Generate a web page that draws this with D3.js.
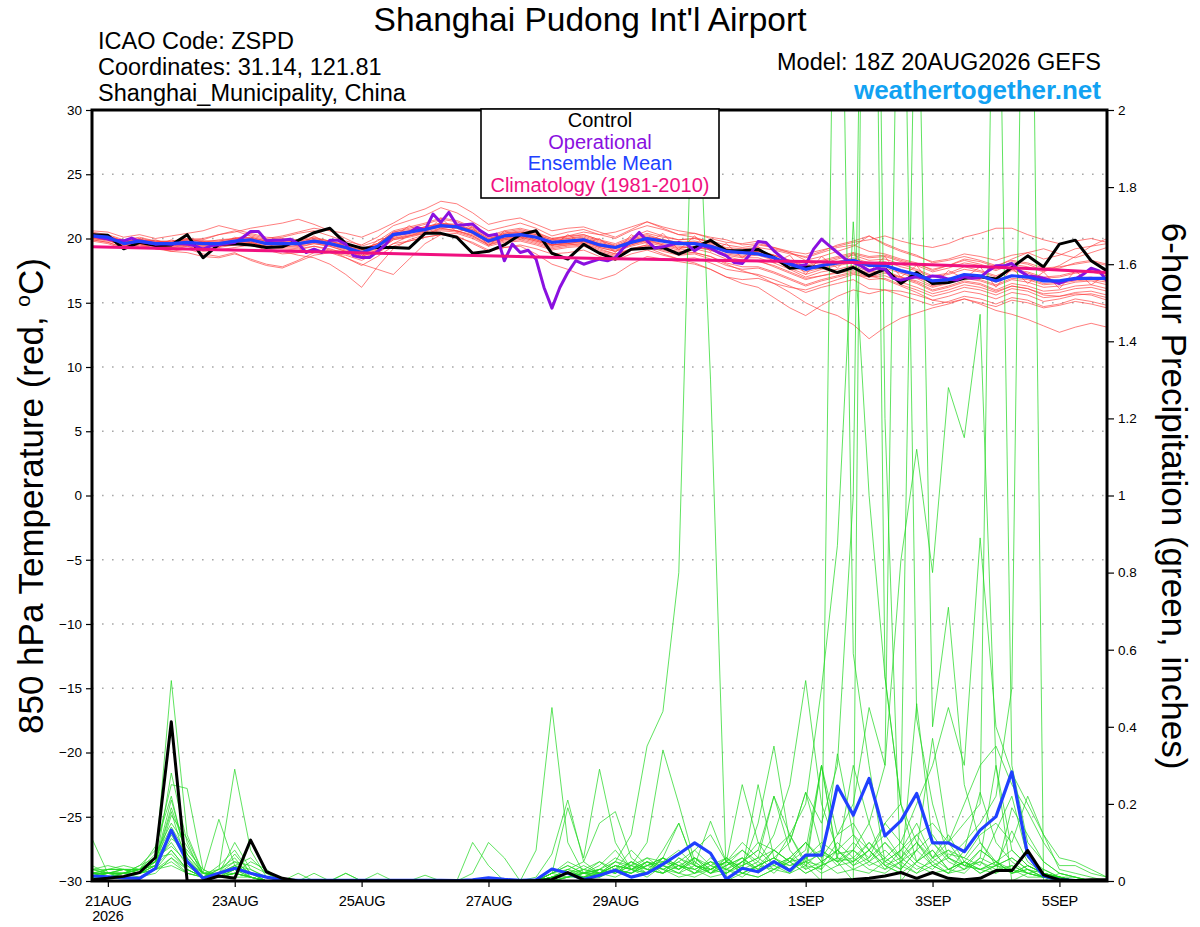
<!DOCTYPE html>
<html>
<head>
<meta charset="utf-8">
<script src="https://cdn.jsdelivr.net/npm/d3@7"></script>
<style>
body { margin: 0; background: #fff; }
svg { display: block; }
text { font-family: "Liberation Sans", Arial, Helvetica, sans-serif; }
</style>
</head>
<body>
<svg id="chart" width="1200" height="927"></svg>
<script>
// ---------------- DATA ----------------
const runStart = Date.UTC(2026, 7, 20, 18); // 18Z 20AUG2026, 6-hourly steps
const stepHours = 6;
const opStepHours = 3;

const xTickDates = [Date.UTC(2026,7,21), Date.UTC(2026,7,23), Date.UTC(2026,7,25), Date.UTC(2026,7,27),
                    Date.UTC(2026,7,29), Date.UTC(2026,8,1), Date.UTC(2026,8,3), Date.UTC(2026,8,5)];
const xTickLabels = ["21AUG", "23AUG", "25AUG", "27AUG", "29AUG", "1SEP", "3SEP", "5SEP"];
const yearLabel = "2026";
const tempTicks = [-30, -25, -20, -15, -10, -5, 0, 5, 10, 15, 20, 25, 30];
const precipTicks = [0, 0.2, 0.4, 0.6, 0.8, 1, 1.2, 1.4, 1.6, 1.8, 2];

// Control 850 hPa temperature (6-hourly)
const controlTemp = [20.3,20.25,19.2,19.7,19.45,19.5,20.3,18.5,19.55,19.6,19.5,19.3,19.35,19.85,20.45,20.8,
  19.6,19.25,19.3,19.3,19.25,20.4,20.4,20.1,18.85,19.0,19.5,20.3,20.6,18.85,18.4,19.55,
  18.85,18.4,19.17,19.25,19.3,18.78,19.3,19.86,19.04,19.04,19.15,18.52,17.69,17.79,17.79,17.35,
  17.74,17.09,17.61,16.5,17.35,16.5,16.58,16.91,17.02,16.84,17.74,18.65,17.79,19.56,19.87,18.27,17.48];

// Operational 850 hPa temperature (3-hourly)
const operationalTemp = [20.21,20.08,19.95,19.87,19.82,20.03,19.77,19.69,19.56,19.61,19.56,19.61,19.56,19.43,19.17,19.43,
  19.51,19.61,19.69,20.08,20.54,20.54,19.82,19.87,19.87,19.95,19.61,18.91,19.17,18.91,19.87,19.87,
  19.56,18.65,18.52,18.52,18.99,19.51,20.34,20.39,20.47,20.86,20.65,21.9,21.25,22.03,21.04,21.07,
  21.12,20.6,20.21,20.34,18.27,19.56,18.91,19.09,18.39,16.19,14.58,16.19,17.35,18.27,18.0,18.2,
  18.39,18.26,18.52,19.25,19.82,20.47,19.82,19.25,19.35,19.51,19.69,19.56,19.04,19.43,19.25,18.91,
  18.65,18.13,18.05,18.78,19.77,19.69,19.04,18.52,18.05,17.87,17.95,19.17,19.95,19.43,18.91,18.39,
  18.13,17.87,17.48,17.69,17.61,16.91,16.76,16.91,17.02,16.91,17.09,17.02,16.84,16.76,17.02,16.91,
  16.97,17.48,17.87,17.87,18.05,17.48,17.09,17.02,16.91,16.71,16.5,16.76,16.84,17.22,17.69,17.48,16.71];

// Ensemble mean 850 hPa temperature (6-hourly)
const meanTemp = [20.2,20.1,19.6,19.8,19.6,19.6,19.7,19.6,19.6,19.8,19.9,19.6,19.6,19.6,19.8,19.6,
  19.3,18.9,19.4,20.3,20.5,20.7,21.0,20.9,20.5,19.8,20.2,20.3,20.1,19.7,19.8,19.9,
  19.5,19.3,19.7,20.0,19.8,19.6,19.6,19.4,19.0,18.9,18.8,18.5,18.0,17.6,17.9,18.1,
  18.3,17.9,17.9,17.5,17.2,16.7,16.8,17.2,17.1,16.7,17.1,17.0,16.7,16.7,16.9,16.9,16.9];

// Climatology (1981-2010), daily from 18Z 20AUG
const climoTemp = [19.35,19.24,19.13,19.02,18.91,18.8,18.68,18.56,18.44,18.36,18.29,18.22,18.13,18.0,17.82,17.6,17.36];

// Ensemble member temperatures (6-hourly)
const memberTemp = [
 [20.5,20.3,19.9,20.1,19.8,19.7,20.0,19.9,20.3,20.6,20.2,19.9,20.1,20.4,20.6,20.2, 19.8,19.5,20.1,21.0,21.4,21.8,22.4,22.0,21.3,20.6,20.9,21.2,20.8,20.2,20.5,20.7, 20.3,20.0,20.6,21.0,20.7,20.3,20.4,20.0,19.7,19.6,19.8,19.2,18.9,18.5,18.9,19.3, 19.5,19.0,18.8,18.4,18.1,17.5,17.9,18.3,18.0,17.6,18.2,18.0,17.5,17.7,18.1,18.3,18.0],
 [19.9,19.7,19.3,19.5,19.2,19.1,19.4,19.0,19.1,19.3,19.5,19.1,18.8,18.9,19.2,18.9, 18.5,17.9,18.6,19.4,19.8,20.1,20.3,20.2,19.6,19.0,19.3,19.5,19.2,18.8,18.9,19.1, 18.6,18.3,18.8,19.1,18.7,18.4,18.5,18.1,17.6,17.4,17.2,16.8,16.3,15.8,16.2,16.5, 16.8,16.1,16.0,15.6,15.2,14.8,15.1,15.5,15.3,14.9,15.4,15.2,14.7,14.9,15.3,15.1,14.8],
 [20.3,20.0,19.5,20.0,19.4,19.9,19.5,19.8,19.3,20.1,19.7,19.3,19.8,19.4,20.2,19.5, 19.6,18.6,19.9,20.1,21.0,20.4,21.6,20.5,20.9,19.4,20.6,19.9,20.7,19.4,20.3,19.6, 20.0,18.9,20.3,19.6,20.4,19.1,20.2,19.0,19.6,18.5,19.4,18.1,18.7,17.2,18.6,17.7, 18.9,17.4,18.6,17.0,17.9,16.3,17.5,16.9,17.8,16.2,17.7,16.5,17.4,16.1,17.5,16.4,17.2],
 [20.1,20.2,19.8,19.7,19.9,19.5,19.6,19.7,19.4,19.6,19.8,19.2,19.0,18.7,18.5,18.0, 17.2,16.2,17.8,19.2,19.9,20.3,20.8,20.6,20.2,19.5,19.9,20.1,19.8,19.5,19.6,19.8, 19.3,19.0,19.5,19.9,19.6,19.4,19.3,19.2,18.8,18.6,18.7,18.3,17.7,17.2,17.6,17.9, 18.1,17.6,17.7,17.3,16.9,16.3,16.6,17.0,16.8,16.4,16.9,16.8,16.4,16.5,16.7,16.8,16.6],
 [20.4,20.1,19.7,19.9,19.8,19.8,20.0,19.7,19.9,20.0,20.3,20.0,20.2,20.5,20.8,20.6, 20.4,20.1,20.6,21.2,21.9,22.3,22.9,22.7,22.0,21.1,21.4,21.6,21.1,20.6,20.8,20.9, 20.5,20.1,20.7,21.3,20.9,20.6,20.4,20.1,19.9,19.5,19.6,19.3,18.9,18.3,18.6,19.0, 19.4,20.2,19.5,19.0,18.6,18.2,18.4,18.8,18.6,18.3,18.7,18.9,18.4,18.7,19.2,19.4,19.6],
 [20.0,19.9,19.4,19.6,19.5,19.3,19.5,19.4,19.5,19.7,19.6,19.3,19.4,19.3,19.6,19.4, 19.0,18.6,19.0,19.9,20.1,20.4,20.6,20.5,20.1,19.5,19.8,19.9,19.6,19.2,19.4,19.5, 19.0,18.7,19.2,19.5,19.1,18.8,18.9,18.6,18.0,17.5,17.1,16.5,15.8,15.0,14.4,14.0, 13.3,12.2,13.1,13.8,14.2,14.6,14.9,15.3,15.0,14.7,15.2,15.0,14.6,14.8,15.1,14.9,14.6],
 [20.2,20.0,19.6,19.9,19.7,19.6,19.8,19.6,19.7,19.9,20.0,19.8,19.7,19.6,19.9,19.7, 19.4,19.1,19.6,20.4,20.6,20.9,21.2,21.0,20.7,20.0,20.4,20.5,20.3,19.9,20.0,20.2, 19.8,19.5,20.0,20.4,20.1,19.9,20.0,19.8,19.5,19.3,19.5,19.3,19.0,18.8,19.1,19.4, 19.7,19.9,20.2,19.8,19.5,19.3,19.6,20.1,20.4,20.8,20.8,20.3,19.9,19.6,19.8,20.0,19.7],
 [19.8,19.6,19.2,19.4,19.3,19.0,19.2,18.8,18.6,18.9,18.3,17.9,17.7,18.2,18.7,18.9, 18.7,18.3,18.9,19.6,20.2,20.6,21.1,21.0,20.4,19.8,20.0,20.4,20.0,19.5,19.6,19.8, 19.4,19.2,19.6,19.9,19.5,19.2,19.4,19.1,18.7,18.5,18.5,18.1,17.6,17.0,17.4,17.6, 17.9,17.4,17.5,17.0,16.6,16.0,16.3,16.7,16.5,16.0,16.5,16.3,15.9,16.0,16.3,16.4,16.1],
 [20.6,20.5,20.1,20.3,20.0,20.2,20.4,20.6,21.0,20.7,20.4,20.1,20.0,19.9,20.1,19.8, 19.5,19.2,19.6,20.5,20.8,21.1,21.5,21.3,20.8,20.1,20.5,20.7,20.4,20.0,20.2,20.3, 19.9,19.6,20.1,20.6,20.2,19.9,20.0,19.7,19.2,19.0,19.1,18.7,18.2,17.7,18.0,18.4, 18.7,18.3,18.4,18.0,17.6,17.1,17.3,17.8,17.5,17.1,17.6,17.4,17.0,17.1,17.4,17.5,17.2],
 [20.3,20.1,19.7,19.8,19.6,19.7,19.9,20.0,20.3,20.5,20.8,21.0,21.2,21.5,21.1,20.6, 20.0,19.4,19.8,20.6,20.9,21.2,21.6,21.4,20.9,20.2,20.6,20.8,20.5,20.0,20.1,20.3, 19.9,19.4,19.9,20.3,19.9,19.6,19.7,19.4,18.9,18.7,18.8,18.4,17.9,17.4,17.7,18.0, 18.2,17.8,17.9,17.4,17.0,16.5,16.8,17.2,17.0,16.6,17.1,16.9,16.5,16.6,16.9,17.0,16.7],
 [20.0,19.8,19.5,19.6,19.4,19.4,19.5,19.3,19.4,19.5,19.7,19.4,19.3,19.2,19.4,19.1, 18.5,18.0,17.6,17.2,18.4,19.6,20.3,20.4,20.0,19.4,19.7,19.8,19.5,19.1,19.3,19.4, 18.9,18.6,19.1,19.4,19.0,18.7,18.8,18.4,17.9,17.6,17.7,17.3,16.8,16.3,16.7,17.0, 17.3,16.8,16.9,16.4,16.0,15.5,15.8,16.2,16.0,15.6,16.1,15.9,15.4,15.5,15.8,15.9,15.6],
 [20.2,20.0,19.6,19.8,19.6,19.5,19.7,19.6,19.6,19.8,19.9,19.6,19.5,19.6,19.8,19.6, 19.2,18.9,19.3,20.2,20.5,20.8,21.1,21.0,20.6,19.9,20.4,20.6,20.3,19.9,20.2,20.5, 20.3,20.5,20.9,21.3,20.8,20.3,20.1,19.7,19.2,18.9,18.9,18.5,18.0,17.6,17.9,18.2, 18.5,18.1,18.2,17.8,17.5,17.0,17.2,17.6,17.4,17.0,17.5,17.3,16.9,17.0,17.3,17.4,17.1],
 [19.9,19.7,19.3,19.5,19.4,19.3,19.4,19.2,19.3,19.5,19.6,19.3,19.2,19.1,19.4,19.2, 18.8,18.5,18.9,19.6,19.8,20.1,20.3,20.1,19.7,19.1,19.3,19.4,18.8,18.0,17.6,17.1, 16.8,17.2,18.0,18.6,18.4,18.2,18.0,17.6,17.0,16.5,16.2,15.4,14.6,14.0,14.8,15.5, 16.0,15.7,16.0,15.9,15.6,15.2,15.5,15.9,15.7,15.3,15.8,15.6,15.1,15.3,15.6,15.7,15.4],
 [20.1,19.9,19.5,19.7,19.5,19.5,19.6,19.5,19.5,19.7,19.8,19.5,19.5,19.5,19.7,19.5, 19.1,18.8,19.2,20.0,20.3,20.6,20.9,20.8,20.4,19.7,20.0,20.2,19.9,19.5,19.7,19.8, 19.4,19.1,19.5,19.8,19.5,19.3,19.3,19.1,18.6,18.3,18.2,17.9,17.4,16.9,17.1,17.3, 17.5,17.1,16.8,16.3,15.8,15.2,15.0,15.3,14.9,14.4,14.1,13.7,13.2,12.7,13.1,13.4,13.1],
 [20.4,20.2,19.8,19.9,19.7,19.8,19.9,19.8,19.8,20.0,20.1,19.8,19.8,19.8,20.0,19.8, 19.5,19.2,19.6,20.5,20.7,20.9,21.2,21.1,20.7,20.0,20.3,20.5,20.2,19.8,20.0,20.1, 19.7,19.4,19.8,20.2,19.9,19.7,19.7,19.5,19.1,18.9,19.0,18.7,18.3,17.9,18.3,18.6, 18.9,18.6,18.7,18.3,18.0,17.6,17.9,18.4,18.2,17.8,18.4,18.9,19.2,18.8,18.5,18.9,19.3],
 [20.0,19.9,19.4,19.6,19.5,19.4,19.6,19.4,19.5,19.6,19.7,19.4,19.4,19.4,19.6,19.4, 19.0,18.7,19.1,20.0,20.2,20.4,20.7,20.6,20.2,19.6,19.9,20.0,19.7,19.3,19.5,19.6, 19.2,18.8,19.1,19.3,18.8,18.4,18.1,17.6,17.0,16.8,16.9,16.5,16.2,16.0,16.4,16.8, 17.2,17.0,17.3,17.0,16.7,16.2,16.5,16.9,16.7,16.3,16.8,16.6,16.2,16.3,16.6,16.7,16.4],
 [20.3,20.1,19.7,19.9,19.7,19.7,19.8,19.7,19.7,19.9,20.0,19.7,19.7,19.7,19.9,19.7, 19.3,19.0,19.4,20.3,20.5,20.8,21.0,20.9,20.5,19.8,20.2,20.3,20.1,19.7,19.8,20.0, 19.6,19.3,19.8,20.1,19.9,19.7,19.8,19.6,19.3,19.2,19.3,19.1,18.8,18.6,19.0,19.5, 19.8,20.2,19.6,19.1,18.7,18.1,18.3,18.6,18.3,17.9,18.3,18.1,17.7,17.8,18.0,18.2,17.9],
 [20.1,20.0,19.6,19.8,19.6,19.6,19.7,19.5,19.6,19.8,19.9,19.6,19.6,19.5,19.7,19.5, 19.2,18.8,19.3,20.1,20.4,20.7,20.9,20.8,20.4,19.8,20.1,20.2,19.9,19.5,19.6,19.7, 19.3,19.0,19.4,19.7,19.4,19.1,19.2,18.9,18.4,18.2,18.3,17.8,17.3,16.8,17.1,17.4, 17.7,17.3,17.4,16.9,16.5,15.9,16.2,16.6,16.4,15.9,16.3,16.1,15.6,15.5,15.7,15.6,15.2],
 [20.2,19.9,19.5,19.6,19.2,19.0,18.9,18.6,18.5,18.8,18.4,18.0,17.8,18.3,18.9,19.1, 19.0,18.6,19.1,19.9,20.2,20.5,20.8,20.6,20.3,19.7,20.0,20.1,19.8,19.4,19.5,19.6, 19.1,18.8,19.2,19.5,19.2,19.0,18.9,18.6,18.1,17.8,17.8,17.4,16.9,16.4,16.8,17.1, 17.4,17.0,17.1,16.6,16.2,15.7,16.0,16.4,16.2,15.8,16.3,16.1,15.7,15.8,16.1,16.2,15.9],
 [20.3,20.2,19.8,20.0,19.8,19.7,19.9,19.8,19.8,20.0,20.1,19.8,19.7,19.8,20.0,19.8, 19.4,19.1,19.5,20.3,20.6,20.9,21.1,21.0,20.6,19.9,20.3,20.4,20.1,19.7,19.9,20.0, 19.6,19.3,19.7,20.1,19.8,19.6,19.7,19.5,19.1,18.9,19.0,18.7,18.3,17.8,18.2,18.5, 18.8,18.5,18.6,18.2,17.9,17.4,17.7,18.1,17.9,17.5,18.0,17.8,17.4,17.9,18.6,19.4,20.0]
];

// Control 6-hour precipitation (inches)
const controlPrecip = [0.003,0.007,0.012,0.022,0.061,0.413,0,0,0.013,0.007,0.106,0.024,0.007,0,0,0,
  0,0,0,0,0,0,0,0,0,0,0,0,0.001,0.004,0.022,0.003,
  0.002,0.001,0.001,0.001,0.001,0.001,0.001,0.001,0.001,0.001,0.001,0.001,0.001,0.002,0.002,0.002,
  0.004,0.007,0.013,0.022,0.007,0.022,0.007,0.003,0.007,0.027,0.027,0.079,0.016,0.003,0.001,0.003,0.003];

// Ensemble mean 6-hour precipitation (inches)
const meanPrecip = [0.013,0.011,0.008,0.007,0.033,0.132,0.05,0.007,0.02,0.033,0.02,0.01,0.003,0.002,0.002,0.002,
  0.002,0.002,0.002,0.002,0.002,0.002,0.002,0.001,0.003,0.008,0.004,0.002,0.003,0.031,0.02,0.004,
  0.015,0.028,0.01,0.02,0.044,0.07,0.099,0.072,0.005,0.033,0.024,0.05,0.027,0.067,0.067,0.246,
  0.171,0.266,0.117,0.156,0.227,0.099,0.099,0.076,0.132,0.167,0.283,0.067,0.013,0.003,0.001,0.001,0.001];

// Ensemble member 6-hour precipitation (inches)
const memberPrecip = [
 [.01,.02,.02,.03,.05,.52,.12,.02,.01,.03,.01,0,0,0,0,0, 0,0,0,0,0,0,0,0,0,0,0,0,.08,.45,.10,.02, .01,.03,.02,.05,.03,.01,.02,.06,.03,.01,.04,.08,.05,.02,.04,.10, .06,.03,.02,.05,.10,.04,.02,.03,.08,.05,.02,.03,.01,.01,0,0,0],
 [.03,.03,.03,.02,.04,.28,.10,.01,.02,.05,.02,0,0,0,.02,0, 0,0,0,0,0,0,0,0,0,0,0,0,.01,.07,.21,.05, .02,.04,.01,.02,.08,.15,.04,.02,.03,.06,.02,.05,.12,.04,.03,.33, .12,.05,.03,.08,.15,.06,.03,.05,.10,.04,.06,.03,.02,.01,.01,0,0],
 [.02,.01,.02,.04,.08,.25,.24,.03,.01,.02,.01,0,0,0,0,0, .02,0,0,0,0,0,0,0,0,0,0,0,0,.02,.19,.06, .29,.10,.03,.01,.04,.02,.01,.03,.05,.02,.01,.03,.06,.10,.05,.02, .03,.05,.08,.04,.02,.06,.12,.05,.03,.02,.04,.02,.01,0,0,0,0],
 [.11,.02,.03,.03,.05,.21,.06,.02,.16,.04,.01,0,0,0,0,0, 0,0,0,0,0,0,0,0,0,0,0,0,0,.01,.03,.05, .15,.18,.06,.03,.02,.04,.03,.01,.02,.05,.08,.22,.12,.05,.30,.06, .30,.15,.04,.02,.05,.08,.03,.02,.06,.04,.13,.05,.02,.01,0,0,0],
 [.02,.02,.03,.02,.05,.18,.04,.01,.03,.29,.08,.01,0,0,0,0, 0,0,0,0,0,0,0,0,.10,.04,0,0,0,.02,.05,.03, .02,.05,.04,.02,.06,.03,.08,.12,.05,.25,.10,.04,.02,.06,.03,.08, .05,.08,.12,.06,.03,.05,.02,.08,.23,.10,.05,.02,.03,.01,0,0,0],
 [.01,.03,.03,.03,.07,.15,.09,.02,.02,.10,.03,.01,0,0,0,0, 0,0,0,0,0,0,0,0,0,0,0,0,0,0,.01,.02, .03,.05,.12,.35,.44,.80,2.3,1.3,0,.02,.01,.03,.05,.02,.04,.06, .03,.02,.05,.08,.04,.02,.03,.05,.02,.04,.03,.01,.01,0,0,0,0],
 [.02,.02,.01,.02,.04,.12,.05,.01,.04,.08,.02,0,0,0,0,0, 0,0,.02,0,0,0,0,0,0,0,0,0,0,.01,.02,.01, .03,.06,.04,.10,.34,.20,.05,.02,.06,.03,.15,.35,.10,.23,.08,.04, .05,.10,.06,.03,.08,.37,.10,.04,.03,.05,.02,.04,.02,.01,0,0,0],
 [.03,.02,.02,.03,.09,.22,.05,.02,.01,.02,.05,.03,0,0,0,0, 0,0,0,0,0,.015,0,0,0,0,0,0,0,.02,.04,.02, .05,.03,.08,.04,.06,.15,.04,.02,.05,.10,.06,.22,.08,.03,.30,.12, .15,.08,.04,.02,.46,.10,.05,.03,.06,.30,.08,.04,.02,.01,0,0,0],
 [.01,.01,.02,.01,.03,.08,.03,.01,.02,.07,.02,0,0,0,0,0, 0,0,0,0,0,0,0,0,.02,.10,.06,0,0,.01,.02,.04, .02,.04,.03,.06,.05,.08,.04,.155,.05,.03,.25,.06,.04,.05,.07,.05, .08,.04,.06,.10,.05,.03,.07,.06,.04,.13,.22,.06,.03,.01,0,0,0],
 [.02,.03,.04,.03,.06,.14,.07,.02,.01,.04,.06,.02,0,.02,0,0, 0,0,0,0,0,0,0,0,0,0,0,0,0,.01,.03,.02, .01,.03,.05,.02,.04,.03,.06,.02,.04,.08,.05,.12,.25,.52,.20,.08, .04,.08,.03,.05,.02,.04,.06,.03,.05,.02,.19,.12,.05,.02,.01,0,0],
 [.04,.02,.02,.03,.05,.10,.04,.01,.03,.06,.01,0,0,0,0,0, .02,0,0,0,0,0,0,0,0,0,0,0,0,.01,.02,.01, .02,.01,.03,.02,.05,.04,.02,.03,.06,.02,.04,.03,.02,.04,0,3.2, .59,.30,.05,.03,.08,.04,.02,.05,.03,.04,.02,.03,.01,.01,0,0,0],
 [.01,.02,.01,.01,.02,.06,.02,.01,.01,.02,.01,0,0,0,0,0, 0,0,0,0,0,0,0,0,0,0,0,0,0,0,.01,.01, .02,.03,.02,.04,.03,.05,.08,.04,.03,.05,.10,.08,.12,.20,.50,.87, 1.71,1.0,.53,.20,.05,.10,.06,.04,.08,.05,.03,.02,.01,.01,0,0,0],
 [.02,.03,.03,.02,.04,.17,.11,.02,.02,.03,.02,.01,0,0,0,0, 0,0,0,0,0,0,0,0,0,0,0,0,0,.01,.02,.03, .05,.02,.04,.03,.02,.06,.03,.05,.02,.04,.06,.03,.05,.08,.30,.05, 0,4.5,1.2,0,.05,.08,.03,.05,.02,.04,.06,.03,.01,.01,0,0,0],
 [.03,.02,.02,.04,.06,.09,.05,.02,.03,.05,.04,.02,0,0,0,0, 0,0,0,0,0,0,0,0,0,0,0,0,0,.02,.04,.02, .04,.08,.03,.05,.04,.02,.06,.03,.05,.08,.04,.06,.10,.23,.15,.30, 1.0,4.0,.53,.20,.10,.06,.08,.04,.03,.05,.02,.04,.02,.01,0,0,0],
 [.01,.01,.01,.02,.03,.05,.02,.01,.01,.01,.01,0,0,0,0,0, 0,0,0,0,0,0,0,0,0,0,0,0,0,0,.01,.02, .03,.02,.05,.03,.06,.04,.02,.05,.03,.02,.04,.06,.03,.05,.02,.04, .08,.15,.30,3.0,.42,.20,.06,.04,.05,.03,.04,.02,.01,.01,0,0,0],
 [.02,.02,.03,.02,.05,.13,.06,.01,.02,.02,.01,0,0,0,0,0, 0,0,0,0,0,0,0,0,0,0,0,0,0,.01,.02,.01, .02,.04,.03,.05,.02,.06,.04,.03,.05,.04,.06,.08,.05,.10,.06,.12, .20,.45,.30,.83,1.12,.80,1.28,1.15,1.47,.30,0,.02,.01,.01,0,0,0],
 [.03,.04,.03,.03,.06,.07,.03,.01,.02,.04,.02,.01,0,0,0,0, 0,0,0,0,0,0,0,0,0,0,0,0,0,.02,.01,.03, .02,.05,.03,.04,.06,.03,.05,.02,.04,.06,.03,.05,.04,.06,.08,.05, .10,.06,.15,.20,2.6,.40,.71,.25,.10,.05,.08,.04,.02,.01,0,0,0],
 [.02,.01,.02,.03,.04,.11,.08,.03,.01,.03,.02,0,0,0,0,0, 0,0,0,0,0,0,0,0,0,0,0,0,0,.01,.02,.02, .03,.02,.04,.06,.03,.05,.02,.04,.06,.03,.05,.02,.06,.04,.08,.05, .06,.10,.05,.08,.12,.06,.10,.15,.20,3.0,.30,.10,.05,.02,.01,0,0],
 [.01,.02,.02,.02,.03,.04,.02,.01,.01,.02,.01,0,0,0,0,0, 0,0,0,0,0,0,0,0,0,0,0,0,0,0,.01,.02, .02,.03,.02,.05,.03,.02,.04,.03,.02,.05,.03,.04,.06,.03,.05,.08, .04,.06,.10,.05,.08,.12,.06,.10,.15,.22,.50,3.5,0,.02,.01,0,0],
 [.02,.02,.02,.03,.05,.19,.07,.02,.02,.04,.03,.01,0,0,0,0, 0,0,0,0,0,0,0,0,0,0,0,0,0,.01,.02,.01, .01,.03,.02,.04,.05,.03,.06,.04,.02,.05,.08,.04,.06,.10,.05,.08, .12,.08,.15,.10,.20,.30,.45,.30,.89,.40,.28,.20,.12,.06,.05,.03,.01],
 [.01,.02,.02,.02,.03,.06,.03,.01,.01,.02,.01,0,0,0,0,0, 0,0,0,0,0,0,0,0,0,0,0,0,0,.01,.01,.02, .02,.04,.03,.02,.06,.04,.03,.05,.04,.06,.03,.08,.05,.06,.10,.07, .08,.05,.10,.06,.12,.15,.10,.20,.30,.35,.25,.18,.10,.04,.04,.02,.01],
 [.02,.01,.02,.03,.04,.08,.03,.01,.02,.03,.01,0,0,0,0,0, 0,0,0,0,0,0,0,0,0,0,0,0,0,.02,.03,.01, .03,.02,.05,.03,.02,.04,.06,.03,.05,.02,.04,.06,.03,.05,.04,.06, .05,.08,.04,.06,.10,.05,.08,.06,.12,.15,.10,.22,.12,.03,.02,.01,0]
];

// ---------------- DRAW ----------------
const svg = d3.select("#chart");
const W = 1200, H = 927;
const plot = { left: 92, right: 1107, top: 110, bottom: 881 };
const font = '"Liberation Sans", Arial, Helvetica, sans-serif';

const runEnd = runStart + 64 * stepHours * 3600e3;
const x = d3.scaleUtc().domain([runStart, runEnd]).range([plot.left, plot.right]);
const yT = d3.scaleLinear().domain([-30, 30]).range([plot.bottom, plot.top]);
const yP = d3.scaleLinear().domain([0, 2]).range([plot.bottom, plot.top]);

const timeAt = (i, h) => runStart + i * h * 3600e3;

svg.append("rect").attr("width", W).attr("height", H).attr("fill", "#fff");

svg.append("defs").append("clipPath").attr("id", "plotClip")
  .append("rect").attr("x", plot.left).attr("y", plot.top)
  .attr("width", plot.right - plot.left).attr("height", plot.bottom - plot.top);

// grid (dotted, at temperature ticks)
const grid = svg.append("g");
grid.selectAll("line").data(tempTicks.filter(t => t > -30 && t < 30)).join("line")
  .attr("x1", plot.left).attr("x2", plot.right)
  .attr("y1", d => yT(d)).attr("y2", d => yT(d))
  .attr("stroke", "#a8a8a8").attr("stroke-width", 1.4).attr("stroke-dasharray", "1.6,8.4");

const g = svg.append("g").attr("clip-path", "url(#plotClip)");

const lineT6 = d3.line().x((d, i) => x(timeAt(i, stepHours))).y(d => yT(d));
const lineT3 = d3.line().x((d, i) => x(timeAt(i, opStepHours))).y(d => yT(d));
const lineP6 = d3.line().x((d, i) => x(timeAt(i, stepHours))).y(d => yP(d));
const lineClimo = d3.line().x((d, i) => x(timeAt(i, 24))).y(d => yT(d));

// ensemble members
g.append("g").selectAll("path").data(memberTemp).join("path")
  .attr("d", lineT6).attr("fill", "none")
  .attr("stroke", "#ff4040").attr("stroke-width", 0.8).attr("stroke-opacity", 0.85)
  .attr("stroke-linejoin", "round");

g.append("g").selectAll("path").data(memberPrecip).join("path")
  .attr("d", lineP6).attr("fill", "none")
  .attr("stroke", "#22d822").attr("stroke-width", 0.8).attr("stroke-opacity", 0.9)
  .attr("stroke-linejoin", "round");

// precipitation: mean and control
g.append("path").datum(meanPrecip).attr("d", lineP6).attr("fill", "none")
  .attr("stroke", "#2040ff").attr("stroke-width", 3.2).attr("stroke-linejoin", "round");
g.append("path").datum(controlPrecip).attr("d", lineP6).attr("fill", "none")
  .attr("stroke", "#000").attr("stroke-width", 3).attr("stroke-linejoin", "round");

// temperature: control, operational, mean, climatology
g.append("path").datum(controlTemp).attr("d", lineT6).attr("fill", "none")
  .attr("stroke", "#000").attr("stroke-width", 3).attr("stroke-linejoin", "round");
g.append("path").datum(operationalTemp).attr("d", lineT3).attr("fill", "none")
  .attr("stroke", "#8a10e0").attr("stroke-width", 3).attr("stroke-linejoin", "round");
g.append("path").datum(meanTemp).attr("d", lineT6).attr("fill", "none")
  .attr("stroke", "#2040ff").attr("stroke-width", 3.2).attr("stroke-linejoin", "round");
g.append("path").datum(climoTemp).attr("d", lineClimo).attr("fill", "none")
  .attr("stroke", "#f0107f").attr("stroke-width", 3).attr("stroke-linejoin", "round");

// frame
svg.append("rect").attr("x", plot.left).attr("y", plot.top)
  .attr("width", plot.right - plot.left).attr("height", plot.bottom - plot.top)
  .attr("fill", "none").attr("stroke", "#000").attr("stroke-width", 3);

// axes
const axL = svg.append("g").attr("transform", `translate(${plot.left - 1},0)`)
  .call(d3.axisLeft(yT).tickValues(tempTicks).tickSize(5).tickPadding(4).tickFormat(d3.format("d")));
const axR = svg.append("g").attr("transform", `translate(${plot.right + 1},0)`)
  .call(d3.axisRight(yP).tickValues(precipTicks).tickSize(6).tickPadding(4).tickFormat(d => String(+d.toFixed(1))));
const axB = svg.append("g").attr("transform", `translate(0,${plot.bottom + 1})`)
  .call(d3.axisBottom(x).tickValues(xTickDates).tickSize(5).tickPadding(9)
    .tickFormat((d, i) => xTickLabels[i]));
[axL, axR, axB].forEach(a => {
  a.select(".domain").remove();
  a.selectAll(".tick line").attr("stroke", "#000").attr("stroke-width", 1.2);
  a.selectAll("text").attr("fill", "#000").style("font-family", font);
});
axL.selectAll("text").style("font-size", "13.5px");
axR.selectAll("text").style("font-size", "13.5px");
axB.selectAll("text").style("font-size", "14.5px").attr("letter-spacing", "-0.2px");
axB.append("text").attr("x", x(xTickDates[0])).attr("y", 39).attr("text-anchor", "middle")
  .attr("fill", "#000").style("font-family", font).style("font-size", "14.5px")
  .attr("letter-spacing", "-0.2px").text(yearLabel);

// legend
const lg = svg.append("g");
lg.append("rect").attr("x", 481).attr("y", 109).attr("width", 238).attr("height", 89)
  .attr("fill", "#fff").attr("stroke", "#000").attr("stroke-width", 1.6);
const legendItems = [
  { label: "Control", color: "#000" },
  { label: "Operational", color: "#8a10e0" },
  { label: "Ensemble Mean", color: "#2040ff" },
  { label: "Climatology (1981-2010)", color: "#f0107f" }
];
lg.selectAll("text.lt").data(legendItems).join("text").attr("class", "lt")
  .attr("x", 600).attr("y", (d, i) => 127 + i * 21.5).attr("text-anchor", "middle")
  .attr("fill", d => d.color).style("font-size", "20px").text(d => d.label);

// titles
svg.append("text").attr("x", 590).attr("y", 31).attr("text-anchor", "middle")
  .style("font-size", "33.5px").attr("fill", "#000").text("Shanghai Pudong Int'l Airport");
const leftInfo = ["ICAO Code: ZSPD", "Coordinates: 31.14, 121.81", "Shanghai_Municipality, China"];
svg.selectAll("text.info").data(leftInfo).join("text").attr("class", "info")
  .attr("x", 98).attr("y", (d, i) => 48.5 + i * 26).style("font-size", "23.5px").attr("fill", "#000").text(d => d);
svg.append("text").attr("x", 1101).attr("y", 70).attr("text-anchor", "end")
  .style("font-size", "23.5px").attr("fill", "#000").text("Model: 18Z 20AUG2026 GEFS");
svg.append("text").attr("x", 1101).attr("y", 98.5).attr("text-anchor", "end")
  .style("font-size", "26px").style("font-weight", "bold").attr("fill", "#12a2f2").text("weathertogether.net");

// axis titles
const lt = svg.append("text").attr("transform", "translate(43,496) rotate(-90)")
  .attr("text-anchor", "middle").style("font-size", "35px").attr("fill", "#000");
lt.append("tspan").text("850 hPa Temperature (red, ");
lt.append("tspan").attr("dy", -13).style("font-size", "21px").text("o");
lt.append("tspan").attr("dy", 13).text("C)");

svg.append("text").attr("transform", "translate(1162,496) rotate(90)")
  .attr("text-anchor", "middle").style("font-size", "35px").attr("fill", "#000")
  .text("6-hour Precipitation (green, inches)");
</script>
</body>
</html>
